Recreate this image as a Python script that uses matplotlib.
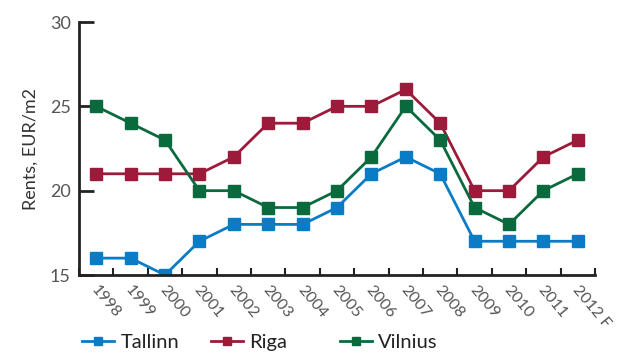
import matplotlib.pyplot as plt
import numpy as np

plt.rcParams['font.family'] = ['Lato', 'DejaVu Sans']

years = ['1998', '1999', '2000', '2001', '2002', '2003', '2004', '2005',
         '2006', '2007', '2008', '2009', '2010', '2011', '2012 F']
tallinn = [16, 16, 15, 17, 18, 18, 18, 19, 21, 22, 21, 17, 17, 17, 17]
riga = [21, 21, 21, 21, 22, 24, 24, 25, 25, 26, 24, 20, 20, 22, 23]
vilnius = [25, 24, 23, 20, 20, 19, 19, 20, 22, 25, 23, 19, 18, 20, 21]

fig = plt.figure(figsize=(6.17, 3.58), dpi=100)
ax = fig.add_axes([79/617, 1 - 275/358, (595-79)/617, (275-22)/358])

x = np.arange(len(years))
l1, = ax.plot(x, tallinn, color='#0a7cc5', lw=2, marker='s', ms=8, label='Tallinn')
l2, = ax.plot(x, riga, color='#9c1a3a', lw=2, marker='s', ms=8, label='Riga')
l3, = ax.plot(x, vilnius, color='#0a6a3e', lw=2, marker='s', ms=8, label='Vilnius')

ax.set_xlim(-0.5, len(years) - 0.5)
ax.set_ylim(15, 30)
ax.set_yticks([15, 20, 25, 30])
ax.set_xticks(np.arange(len(years) + 1) - 0.5)
ax.set_xticklabels([])
ax.tick_params(axis='x', direction='in', length=5, width=1.5, color='#222222')
ax.tick_params(axis='y', direction='in', length=11, width=2, color='#222222',
               labelsize=13, labelcolor='#555555', pad=6)
for sp in ['top', 'right']:
    ax.spines[sp].set_visible(False)
for sp in ['left', 'bottom']:
    ax.spines[sp].set_linewidth(2)
    ax.spines[sp].set_color('#222222')

# slanted year labels under each point
for i, yl in enumerate(years):
    ax.text(i - 0.08, 14.25, yl, rotation=-50, ha='left', va='center',
            rotation_mode='anchor', fontsize=11.5, color='#555555')

ax.set_ylabel('Rents, EUR/m2', fontsize=13, color='#333333', labelpad=8)

for h, x0 in zip([l1, l2, l3], [72, 201, 330]):
    fig.legend(handles=[h], loc='center left', bbox_to_anchor=(x0/617, 1 - 342/358),
               frameon=False, fontsize=14.5, handlelength=1.6, handletextpad=0.3,
               markerscale=0.75, borderpad=0, labelcolor='#222222')

fig.savefig('out.png', dpi=100)
